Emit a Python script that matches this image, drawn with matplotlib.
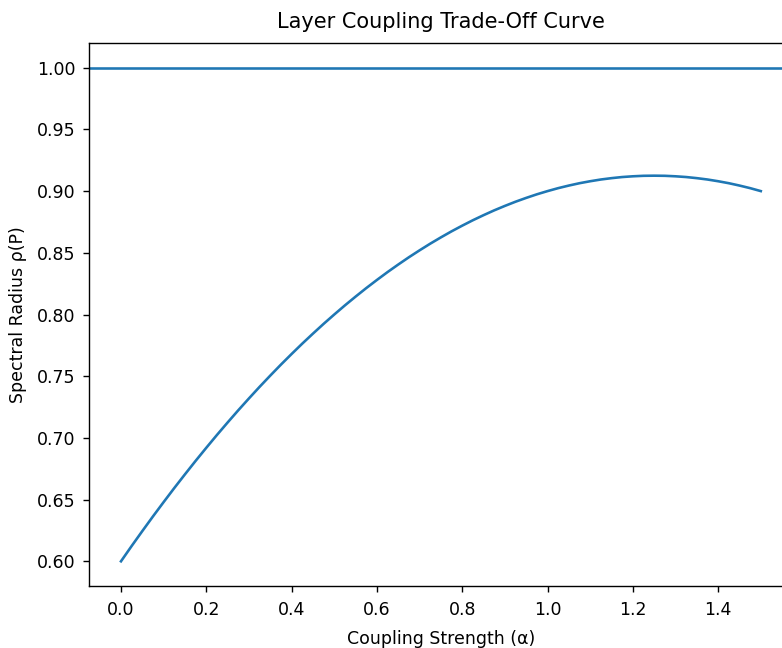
import matplotlib
matplotlib.use('Agg')
import matplotlib.pyplot as plt

# coupling strength values
alpha = [0.000, 0.025, 0.050, 0.075, 0.100, 0.125, 0.150, 0.175, 0.200, 0.225,
         0.250, 0.275, 0.300, 0.325, 0.350, 0.375, 0.400, 0.425, 0.450, 0.475,
         0.500, 0.525, 0.550, 0.575, 0.600, 0.625, 0.650, 0.675, 0.700, 0.725,
         0.750, 0.775, 0.800, 0.825, 0.850, 0.875, 0.900, 0.925, 0.950, 0.975,
         1.000, 1.025, 1.050, 1.075, 1.100, 1.125, 1.150, 1.175, 1.200, 1.225,
         1.250, 1.275, 1.300, 1.325, 1.350, 1.375, 1.400, 1.425, 1.450, 1.475,
         1.500]
rho = [0.6000, 0.6124, 0.6245, 0.6364, 0.6480, 0.6594, 0.6705, 0.6814, 0.6920, 0.7024,
       0.7125, 0.7224, 0.7320, 0.7414, 0.7505, 0.7594, 0.7680, 0.7764, 0.7845, 0.7924,
       0.8000, 0.8074, 0.8145, 0.8214, 0.8280, 0.8344, 0.8405, 0.8464, 0.8520, 0.8574,
       0.8625, 0.8674, 0.8720, 0.8764, 0.8805, 0.8844, 0.8880, 0.8914, 0.8945, 0.8974,
       0.9000, 0.9024, 0.9045, 0.9064, 0.9080, 0.9094, 0.9105, 0.9114, 0.9120, 0.9124,
       0.9125, 0.9124, 0.9120, 0.9114, 0.9105, 0.9094, 0.9080, 0.9064, 0.9045, 0.9024,
       0.9000]
stability_limit = 1.0

s = 1.25  # chart was rendered a bit larger than default
plt.rcParams['font.size'] = 10 * s
plt.rcParams['axes.linewidth'] = 0.8 * s
plt.rcParams['xtick.major.size'] = 3.5 * s
plt.rcParams['ytick.major.size'] = 3.5 * s
plt.rcParams['xtick.major.width'] = 0.8 * s
plt.rcParams['ytick.major.width'] = 0.8 * s
plt.rcParams['xtick.major.pad'] = 6.5
plt.rcParams['ytick.major.pad'] = 5.5

fig = plt.figure(figsize=(7.82, 6.48), dpi=100)
ax = fig.add_axes([0.1138, 0.0957, 0.900, 0.8379])

ax.plot(alpha, rho, linewidth=1.5 * s)
ax.axhline(stability_limit, linewidth=1.5 * s)

ax.set_title('Layer Coupling Trade-Off Curve', pad=10.5)
ax.set_xlabel('Coupling Strength (α)', labelpad=8)
ax.set_ylabel('Spectral Radius ρ(P)', labelpad=7)

fig.savefig('out.png', dpi=100)
